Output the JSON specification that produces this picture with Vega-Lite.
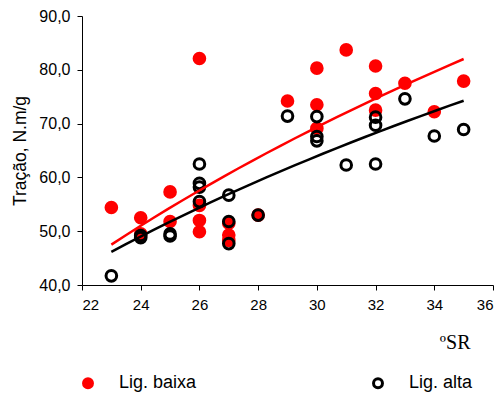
{
  "$schema": "https://vega.github.io/schema/vega-lite/v6.json",
  "autosize": "none",
  "width": 411,
  "height": 269,
  "padding": {"left": 82, "top": 16, "right": 11, "bottom": 116},
  "background": "white",
  "config": {
    "view": {"stroke": null},
    "axis": {
      "domainColor": "#000000", "tickColor": "#000000", "labelColor": "#000000",
      "titleColor": "#000000", "labelFont": "Liberation Sans", "titleFont": "Liberation Sans",
      "grid": false, "tickSize": 5, "domainWidth": 1, "tickWidth": 1, "titleFontWeight": "normal"
    }
  },
  "data": {"values": [
    {"sr": 23, "t": 54.4, "serie": "Lig. baixa"},
    {"sr": 24, "t": 52.5, "serie": "Lig. baixa"},
    {"sr": 24, "t": 49.5, "serie": "Lig. baixa"},
    {"sr": 25, "t": 57.3, "serie": "Lig. baixa"},
    {"sr": 25, "t": 51.8, "serie": "Lig. baixa"},
    {"sr": 26, "t": 82.1, "serie": "Lig. baixa"},
    {"sr": 26, "t": 54.8, "serie": "Lig. baixa"},
    {"sr": 26, "t": 52.0, "serie": "Lig. baixa"},
    {"sr": 26, "t": 49.9, "serie": "Lig. baixa"},
    {"sr": 27, "t": 51.5, "serie": "Lig. baixa"},
    {"sr": 27, "t": 49.3, "serie": "Lig. baixa"},
    {"sr": 27, "t": 48.3, "serie": "Lig. baixa"},
    {"sr": 28, "t": 53.0, "serie": "Lig. baixa"},
    {"sr": 29, "t": 74.2, "serie": "Lig. baixa"},
    {"sr": 30, "t": 80.3, "serie": "Lig. baixa"},
    {"sr": 30, "t": 73.5, "serie": "Lig. baixa"},
    {"sr": 30, "t": 69.1, "serie": "Lig. baixa"},
    {"sr": 31, "t": 83.7, "serie": "Lig. baixa"},
    {"sr": 32, "t": 80.7, "serie": "Lig. baixa"},
    {"sr": 32, "t": 75.6, "serie": "Lig. baixa"},
    {"sr": 32, "t": 72.5, "serie": "Lig. baixa"},
    {"sr": 33, "t": 77.5, "serie": "Lig. baixa"},
    {"sr": 34, "t": 72.2, "serie": "Lig. baixa"},
    {"sr": 35, "t": 77.9, "serie": "Lig. baixa"},
    {"sr": 23, "t": 41.7, "serie": "Lig. alta"},
    {"sr": 24, "t": 49.2, "serie": "Lig. alta"},
    {"sr": 24, "t": 48.8, "serie": "Lig. alta"},
    {"sr": 25, "t": 49.5, "serie": "Lig. alta"},
    {"sr": 25, "t": 49.1, "serie": "Lig. alta"},
    {"sr": 26, "t": 62.5, "serie": "Lig. alta"},
    {"sr": 26, "t": 58.9, "serie": "Lig. alta"},
    {"sr": 26, "t": 58.2, "serie": "Lig. alta"},
    {"sr": 26, "t": 55.5, "serie": "Lig. alta"},
    {"sr": 27, "t": 56.7, "serie": "Lig. alta"},
    {"sr": 27, "t": 51.8, "serie": "Lig. alta"},
    {"sr": 27, "t": 47.7, "serie": "Lig. alta"},
    {"sr": 28, "t": 53.0, "serie": "Lig. alta"},
    {"sr": 29, "t": 71.4, "serie": "Lig. alta"},
    {"sr": 30, "t": 71.3, "serie": "Lig. alta"},
    {"sr": 30, "t": 67.6, "serie": "Lig. alta"},
    {"sr": 30, "t": 66.8, "serie": "Lig. alta"},
    {"sr": 31, "t": 62.3, "serie": "Lig. alta"},
    {"sr": 32, "t": 71.2, "serie": "Lig. alta"},
    {"sr": 32, "t": 69.7, "serie": "Lig. alta"},
    {"sr": 32, "t": 62.5, "serie": "Lig. alta"},
    {"sr": 33, "t": 74.6, "serie": "Lig. alta"},
    {"sr": 34, "t": 67.7, "serie": "Lig. alta"},
    {"sr": 35, "t": 68.9, "serie": "Lig. alta"}
  ]},
  "encoding": {
    "x": {
      "field": "sr", "type": "quantitative",
      "scale": {"domain": [22, 36], "nice": false, "zero": false},
      "axis": {
        "values": [22, 24, 26, 28, 30, 32, 34, 36],
        "labelFontSize": 15, "labelPadding": 7,
        "title": "ºSR", "titleFont": "Liberation Serif", "titleFontSize": 20,
        "titleAnchor": null, "titleAlign": "right", "titleBaseline": "alphabetic",
        "titleX": 388, "titleY": 63
      }
    },
    "y": {
      "field": "t", "type": "quantitative",
      "scale": {"domain": [40, 90], "nice": false, "zero": false},
      "axis": {
        "values": [40, 50, 60, 70, 80, 90],
        "labelExpr": "replace(format(datum.value, '.1f'), '.', ',')",
        "labelFontSize": 16, "labelPadding": 7,
        "title": "Tração, N.m/g", "titleFontSize": 17.5,
        "titleAngle": -90, "titleAnchor": null, "titleAlign": "center", "titleBaseline": "middle",
        "titleX": -62, "titleY": 134.5
      }
    }
  },
  "layer": [
    {
      "mark": {"type": "point", "shape": "circle", "size": 113, "strokeWidth": 3, "opacity": 1},
      "encoding": {
        "fill": {
          "field": "serie", "type": "nominal",
          "scale": {"domain": ["Lig. baixa", "Lig. alta"], "range": ["#ff0000", "transparent"]},
          "legend": {
            "title": null, "orient": "none", "direction": "horizontal",
            "legendX": -3, "legendY": 358, "padding": 0,
            "symbolSize": 80, "symbolStrokeWidth": 3, "labelFontSize": 18,
            "labelFont": "Liberation Sans", "labelColor": "#000000",
            "labelOffset": 22, "columnPadding": 170, "labelLimit": 300
          }
        },
        "stroke": {
          "field": "serie", "type": "nominal",
          "scale": {"domain": ["Lig. baixa", "Lig. alta"], "range": ["#ff0000", "#000000"]},
          "legend": {
            "title": null, "orient": "none", "direction": "horizontal",
            "legendX": -3, "legendY": 358, "padding": 0,
            "symbolSize": 80, "symbolStrokeWidth": 3, "labelFontSize": 18,
            "labelFont": "Liberation Sans", "labelColor": "#000000",
            "labelOffset": 22, "columnPadding": 170, "labelLimit": 300
          }
        }
      }
    },
    {
      "transform": [
        {"filter": "datum.serie === 'Lig. baixa'"},
        {"regression": "t", "on": "sr", "method": "log"}
      ],
      "mark": {"type": "line", "color": "#ff0000", "strokeWidth": 2.5},
      "encoding": {}
    },
    {
      "transform": [
        {"filter": "datum.serie === 'Lig. alta'"},
        {"regression": "t", "on": "sr", "method": "log"}
      ],
      "mark": {"type": "line", "color": "#000000", "strokeWidth": 2.5},
      "encoding": {}
    }
  ]
}
